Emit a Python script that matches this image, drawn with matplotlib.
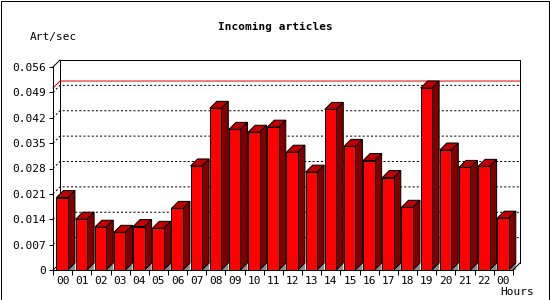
import matplotlib
matplotlib.use('Agg')
import matplotlib.pyplot as plt
from matplotlib.patches import Polygon, Rectangle

# data
hours = ['00', '01', '02', '03', '04', '05', '06', '07', '08', '09', '10', '11',
         '12', '13', '14', '15', '16', '17', '18', '19', '20', '21', '22', '00']
art_per_sec = [0.0200, 0.0140, 0.0118, 0.0104, 0.0120, 0.0115, 0.0170, 0.0287,
               0.0446, 0.0388, 0.0380, 0.0394, 0.0325, 0.0270, 0.0443, 0.0341,
               0.0302, 0.0255, 0.0173, 0.0502, 0.0331, 0.0283, 0.0286, 0.0143]
y_ticks = [0, 0.007, 0.014, 0.021, 0.028, 0.035, 0.042, 0.049, 0.056]
y_labels = ['0', '0.007', '0.014', '0.021', '0.028', '0.035', '0.042', '0.049', '0.056']

plt.rcParams['font.family'] = 'DejaVu Sans Mono'
plt.rcParams['lines.scale_dashes'] = False

W, H = 550, 300
fig = plt.figure(figsize=(W / 100, H / 100), dpi=100)
fig.patch.set_facecolor('white')

# front plane of the plot, in pixels
left, bottom, aw, ah = 53, 30, 460, 203
ax = fig.add_axes([left / W, bottom / H, aw / W, ah / H])
n = len(art_per_sec)
ymax = y_ticks[-1]
ax.set_xlim(0, n)
ax.set_ylim(0, ymax)
ax.set_facecolor('none')

px = 0.72  # one pixel in points
depth = 7  # 3d depth in pixels
dx = depth * n / aw
dy = depth * ymax / ah

for s in ['top', 'right']:
    ax.spines[s].set_visible(False)
for s in ['left', 'bottom']:
    ax.spines[s].set_linewidth(px)

ax.set_yticks(y_ticks)
ax.set_yticklabels(y_labels)
ax.tick_params(axis='y', length=4 * px, width=px, pad=2.5, labelsize=8)
ax.set_xticks(range(n + 1))
ax.set_xticklabels([])
ax.tick_params(axis='x', which='major', length=5 * px, width=px)
ax.set_xticks([i + 0.5 for i in range(n)], minor=True)
ax.set_xticklabels(hours, minor=True)
ax.tick_params(axis='x', which='minor', length=0, pad=4, labelsize=8)

k = dict(clip_on=False, color='black', lw=px)
# back wall
ax.plot([dx, dx, n + dx, n + dx], [dy, ymax + dy, ymax + dy, dy], zorder=1, **k)
ax.plot([0, dx], [ymax, ymax + dy], zorder=1, **k)
ax.plot([0, dx], [0, dy], zorder=1, **k)
ax.plot([n, n + dx], [0, dy], zorder=4, **k)
for v in y_ticks[1:-1]:
    ax.plot([0, dx, n + dx], [v, v + dy, v + dy], zorder=1, ls=(0, (1.5, 1.5)), **k)

# line at the maximum
vmax = max(art_per_sec)
ax.plot([0, dx, n + dx], [vmax, vmax + dy, vmax + dy], color='#e00000', lw=px,
        clip_on=False, zorder=1.5)

# 3d bars
bw = 0.6
for i, v in enumerate(art_per_sec):
    x0 = i + 0.18
    x1 = x0 + bw
    ax.add_patch(Polygon([(x1, 0), (x1 + dx, dy), (x1 + dx, 0)], closed=True,
                         facecolor='#8c8c8c', edgecolor='none', clip_on=False, zorder=2))
    ax.add_patch(Polygon([(x0, v), (x0 + dx, v + dy), (x1 + dx, v + dy), (x1, v)],
                         closed=True, facecolor='#c00000', edgecolor='black', lw=px,
                         clip_on=False, zorder=3))
    ax.add_patch(Polygon([(x1, 0), (x1 + dx, dy), (x1 + dx, v + dy), (x1, v)],
                         closed=True, facecolor='#800000', edgecolor='black', lw=px,
                         clip_on=False, zorder=3))
    ax.add_patch(Rectangle((x0, 0), bw, v, facecolor='#ff0000', edgecolor='black',
                           lw=px, clip_on=False, zorder=3))

fig.text(0.5, 1 - 27 / H, 'Incoming articles', ha='center', va='center',
         fontsize=8, fontweight='bold')
fig.text(30 / W, 1 - 37 / H, 'Art/sec', ha='left', va='center', fontsize=8)
fig.text(534 / W, 1 - 292 / H, 'Hours', ha='right', va='center', fontsize=8)

fig.add_artist(Rectangle((0.5 / W, 0.5 / H), 1 - 1.5 / W, 1 - 1.5 / H,
                         transform=fig.transFigure, fill=False, edgecolor='black', lw=px))

fig.savefig('out.png', dpi=100)
